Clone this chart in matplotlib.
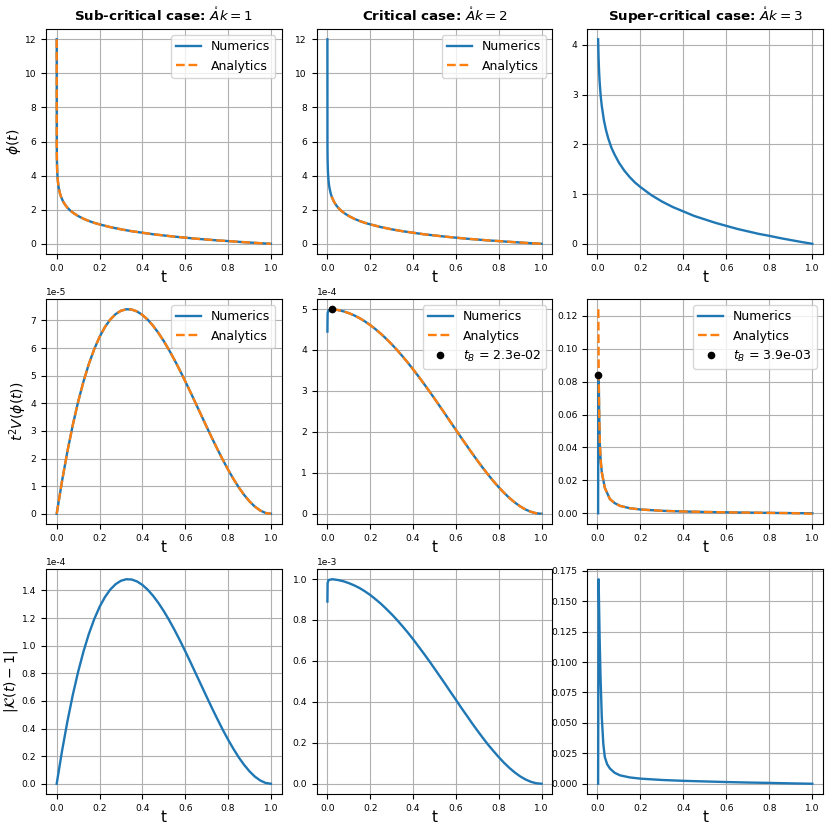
import matplotlib
matplotlib.use('Agg')
import matplotlib.pyplot as plt

plt.rcParams['axes.unicode_minus'] = False
plt.rcParams['axes.formatter.limits'] = [-2, 4]

# ---- data ----
# row 1: phi(t)
t_phi = [0.0, 0.0002, 0.0005, 0.001, 0.002, 0.003, 0.005, 0.0075, 0.01, 0.015, 0.02, 0.03,
         0.04, 0.05, 0.065, 0.08, 0.1, 0.125, 0.15, 0.175, 0.2, 0.25, 0.3, 0.35, 0.4,
         0.45, 0.5, 0.55, 0.6, 0.65, 0.7, 0.75, 0.8, 0.85, 0.9, 0.95, 1.0]
phi_sub = [12.0, 6.02, 5.37, 4.88, 4.39, 4.11, 3.75, 3.46, 3.26, 2.97, 2.77, 2.48,
           2.28, 2.12, 1.93, 1.79, 1.63, 1.47, 1.34, 1.23, 1.14, 0.98, 0.85, 0.74, 0.65,
           0.56, 0.49, 0.42, 0.36, 0.30, 0.25, 0.20, 0.16, 0.115, 0.075, 0.036, 0.0]
# critical analytics starts at t_B, super-critical numerics starts at t = 0.003
i_crit_an = 10
i_sup = 5

# row 2 / row 3 time grid
t_grid = [0.0, 0.025, 0.05, 0.075, 0.1, 0.125, 0.15, 0.175, 0.2, 0.225, 0.25, 0.275,
          0.3, 0.325, 0.35, 0.375, 0.4, 0.425, 0.45, 0.475, 0.5, 0.525, 0.55, 0.575,
          0.6, 0.625, 0.65, 0.675, 0.7, 0.725, 0.75, 0.775, 0.8, 0.825, 0.85, 0.875,
          0.9, 0.925, 0.95, 0.975, 1.0]
# t^2 V, sub-critical (units of 1e-5)
v_sub = [0.0, 1.188, 2.256, 3.209, 4.05, 4.785, 5.419, 5.955, 6.4, 6.757, 7.031, 7.227,
         7.35, 7.404, 7.394, 7.324, 7.2, 7.026, 6.806, 6.546, 6.25, 5.923, 5.569, 5.193,
         4.8, 4.395, 3.981, 3.565, 3.15, 2.741, 2.344, 1.962, 1.6, 1.263, 0.956, 0.684,
         0.45, 0.26, 0.119, 0.03, 0.0]
# |K - 1|, sub-critical (units of 1e-4)
k_sub = [0.0, 0.238, 0.451, 0.642, 0.81, 0.957, 1.084, 1.191, 1.28, 1.351, 1.406, 1.445,
         1.47, 1.481, 1.479, 1.465, 1.44, 1.405, 1.361, 1.309, 1.25, 1.185, 1.114, 1.039,
         0.96, 0.879, 0.796, 0.713, 0.63, 0.548, 0.469, 0.392, 0.32, 0.253, 0.191, 0.137,
         0.09, 0.052, 0.024, 0.006, 0.0]

t_crit = [0.0, 0.001, 0.005, 0.023] + t_grid[2:]
# t^2 V, critical (units of 1e-4)
v_crit = [4.45, 4.90, 4.97, 4.995, 4.975, 4.944, 4.9, 4.845, 4.778, 4.698, 4.608, 4.507,
          4.395, 4.272, 4.141, 4.0, 3.85, 3.693, 3.528, 3.357, 3.18, 2.998, 2.813, 2.624,
          2.433, 2.24, 2.048, 1.857, 1.668, 1.482, 1.301, 1.125, 0.957, 0.798, 0.648,
          0.51, 0.385, 0.275, 0.181, 0.104, 0.048, 0.012, 0.0]
# |K - 1|, critical (units of 1e-3)
k_crit = [0.89, 0.98, 0.995, 0.999, 0.995, 0.989, 0.98, 0.969, 0.956, 0.94, 0.922, 0.901,
          0.879, 0.854, 0.828, 0.8, 0.77, 0.739, 0.706, 0.671, 0.636, 0.6, 0.5625, 0.525,
          0.487, 0.448, 0.41, 0.371, 0.334, 0.296, 0.26, 0.225, 0.191, 0.16, 0.13, 0.102,
          0.077, 0.055, 0.036, 0.021, 0.0095, 0.0024, 0.0]
t_b_crit = 0.023
v_b_crit = 4.995

t_v_sup_an = [0.004, 0.005, 0.006, 0.008, 0.011, 0.015, 0.02, 0.034, 0.058, 0.08, 0.105,
              0.15, 0.2, 0.3, 0.4, 0.5, 0.6, 0.7, 0.8, 0.9, 1.0]
v_sup_an = [0.124, 0.1, 0.082, 0.06, 0.042, 0.032, 0.025, 0.0155, 0.0086, 0.0062, 0.0045,
            0.0031, 0.0023, 0.0015, 0.0011, 0.0008, 0.0006, 0.0004, 0.00025, 0.0001, -0.0003]
t_v_sup = [0.003, 0.0039, 0.006, 0.008, 0.011, 0.015, 0.02, 0.034, 0.058, 0.08, 0.105,
           0.15, 0.2, 0.3, 0.4, 0.5, 0.6, 0.7, 0.8, 0.9, 1.0]
v_sup = [0.0, 0.084, 0.080, 0.06, 0.042, 0.032, 0.025, 0.0155, 0.0086, 0.0062, 0.0045,
         0.0031, 0.0023, 0.0015, 0.0011, 0.0008, 0.0006, 0.0004, 0.00025, 0.0001, 0.0]
t_b_sup = 0.0039
v_b_sup = 0.084

t_k_sup = [0.003, 0.005, 0.007, 0.01, 0.014, 0.02, 0.027, 0.034, 0.045, 0.058, 0.08, 0.105,
           0.15, 0.2, 0.3, 0.4, 0.5, 0.6, 0.7, 0.8, 0.9, 1.0]
k_sup = [0.0, 0.168, 0.15, 0.12, 0.089, 0.055, 0.033, 0.022, 0.016, 0.0125, 0.009, 0.0069,
         0.0052, 0.0042, 0.0031, 0.0024, 0.0019, 0.0014, 0.0010, 0.0007, 0.0003, 0.0]

titles = [r'Sub-critical case: $\mathring{A}k = 1$',
          r'Critical case: $\mathring{A}k = 2$',
          r'Super-critical case: $\mathring{A}k = 3$']
ylabels = [r'$\phi(t)$', r'$t^2V(\phi(t))$', r'$|\mathcal{K}(t) - 1|$']

blue = '#1f77b4'
orange = '#ff7f0e'
lw = 1.7

fig, axs = plt.subplots(3, 3, figsize=(8.3, 8.3), dpi=100)
fig.subplots_adjust(left=0.0554, right=0.9916, top=0.965, bottom=0.0434,
                    wspace=0.149, hspace=0.2)

# row 1
axs[0, 0].plot(t_phi, phi_sub, color=blue, lw=lw, label='Numerics')
axs[0, 0].plot(t_phi, phi_sub, '--', color=orange, lw=lw, label='Analytics')
axs[0, 1].plot(t_phi, phi_sub, color=blue, lw=lw, label='Numerics')
axs[0, 1].plot(t_phi[i_crit_an:], phi_sub[i_crit_an:], '--', color=orange, lw=lw,
               label='Analytics')
axs[0, 2].plot(t_phi[i_sup:], phi_sub[i_sup:], color=blue, lw=lw)

# row 2
v_sub_s = [v * 1e-5 for v in v_sub]
axs[1, 0].plot(t_grid, v_sub_s, color=blue, lw=lw, label='Numerics')
axs[1, 0].plot(t_grid, v_sub_s, '--', color=orange, lw=lw, label='Analytics')
v_crit_s = [v * 1e-4 for v in v_crit]
axs[1, 1].plot(t_crit, v_crit_s, color=blue, lw=lw, label='Numerics')
axs[1, 1].plot(t_crit[3:], v_crit_s[3:], '--', color=orange, lw=lw, label='Analytics')
axs[1, 1].plot([t_b_crit], [v_b_crit * 1e-4], 'o', color='black', ms=4.5,
               label=r'$t_B$ = %.1e' % t_b_crit)
axs[1, 2].plot(t_v_sup, v_sup, color=blue, lw=lw, label='Numerics')
axs[1, 2].plot(t_v_sup_an, v_sup_an, '--', color=orange, lw=lw, label='Analytics')
axs[1, 2].plot([t_b_sup], [v_b_sup], 'o', color='black', ms=4.5,
               label=r'$t_B$ = %.1e' % t_b_sup)

# row 3
axs[2, 0].plot(t_grid, [k * 1e-4 for k in k_sub], color=blue, lw=lw)
axs[2, 1].plot(t_crit, [k * 1e-3 for k in k_crit], color=blue, lw=lw)
axs[2, 2].plot(t_k_sup, k_sup, color=blue, lw=lw)

for i in range(3):
    axs[0, i].set_title(titles[i], fontsize=9.7, fontweight='bold')
    axs[i, 0].set_ylabel(ylabels[i], fontsize=10, labelpad=1)
    for j in range(3):
        ax = axs[i, j]
        ax.grid()
        ax.set_xlabel('t', fontsize=11, labelpad=-2)
        ax.tick_params(labelsize=6.6)
        ax.yaxis.get_offset_text().set_fontsize(6.6)
        if ax.get_legend_handles_labels()[0] and not (i == 0 and j == 2):
            ax.legend(loc='upper right', fontsize=9)

plt.savefig('out.png', dpi=100)
